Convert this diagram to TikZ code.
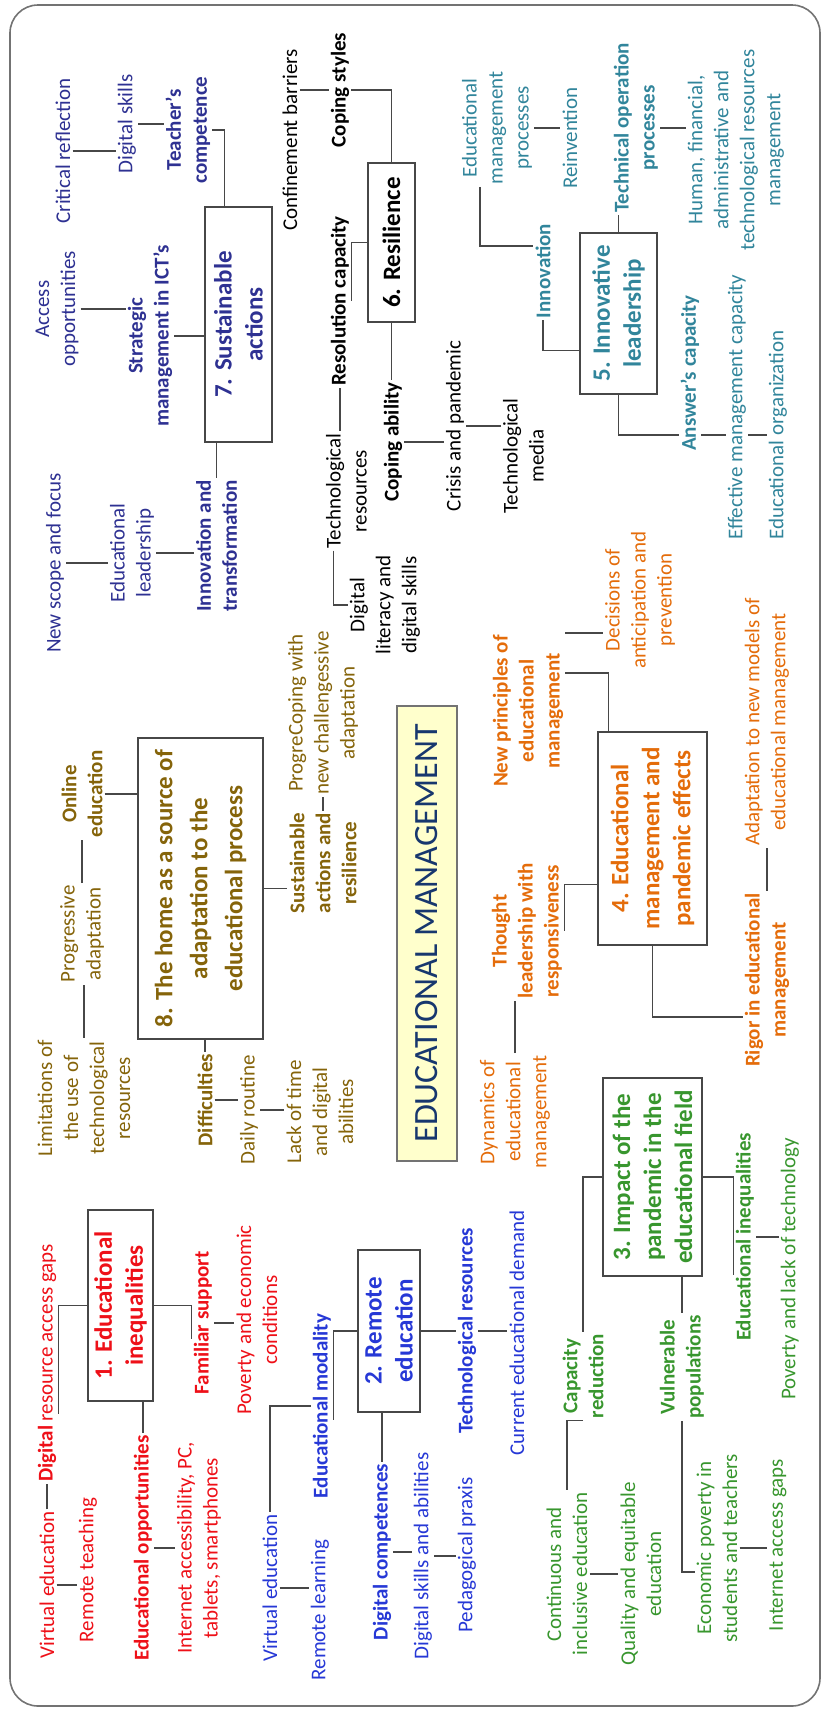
\documentclass[tikz,border=0pt]{standalone}
\usepackage{fontspec}
\setmainfont{Carlito}
\usepackage{tikz}

\definecolor{navytext}{RGB}{46,49,146}
\definecolor{tealtext}{RGB}{49,133,155}
\definecolor{orangetext}{RGB}{228,108,10}
\definecolor{greentext}{RGB}{56,150,46}
\definecolor{bluetext}{RGB}{38,56,214}
\definecolor{redtext}{RGB}{238,16,24}
\definecolor{olivetext}{RGB}{133,100,10}
\definecolor{emtext}{RGB}{23,55,110}
\definecolor{emfill}{RGB}{255,255,204}

\begin{document}
\begin{tikzpicture}[
    x=1pt, y=-1pt,
    font=\fontsize{21}{26}\selectfont,
    leaf/.style={rotate=90, align=center, inner sep=2pt, text=#1},
    sub/.style={leaf=#1, font=\fontsize{21}{26}\selectfont\bfseries},
    topic/.style={
        rotate=90,
        draw=black!72,
        line width=1.1pt,
        align=center,
        inner sep=2pt,
        text=#1,
        font=\fontsize{25}{31}\selectfont\bfseries
    },
    core/.style={
        rotate=90,
        draw=black!55,
        fill=emfill,
        line width=1.1pt,
        text=emtext,
        font=\fontsize{34}{40}\selectfont,
        minimum width=455pt,
        minimum height=60pt
    },
    link/.style={draw=black!72, line width=1.3pt}
]

\useasboundingbox (0,0) rectangle (825,1711);
\draw[black!55, line width=1.6pt, rounded corners=28pt] (10,5) rectangle (820,1706);

\node[core] (core) at (427,933.5) {EDUCATIONAL MANAGEMENT};

\node[topic=redtext, minimum width=191pt, minimum height=65pt] (ineq) at (120.5,1305.5) {1. Educational\\inequalities};
\node[leaf=redtext] (gaps) at (47,1363) {\textbf{Digital} resource access gaps};
\node[leaf=redtext] (virtone) at (47,1585) {Virtual education};
\node[leaf=redtext] (remteach) at (88,1570) {Remote teaching};
\node[sub=redtext] (opport) at (143,1548) {Educational opportunities};
\node[leaf=redtext] (devices) at (199,1548) {Internet accessibility, PC,\\tablets, smartphones};
\node[sub=redtext] (famsup) at (203,1323) {Familiar support};
\node[leaf=redtext] (econcond) at (257,1320) {Poverty and economic\\conditions};

\node[topic=bluetext, minimum width=162pt, minimum height=62pt] (remote) at (389,1331) {2. Remote\\education};
\node[sub=bluetext] (modal) at (322,1406) {Educational modality};
\node[leaf=bluetext] (virttwo) at (270,1588) {Virtual education};
\node[leaf=bluetext] (remlearn) at (320,1610) {Remote learning};
\node[sub=bluetext] (digcomp) at (382,1552) {Digital competences};
\node[leaf=bluetext] (abilities) at (423,1556) {Digital skills and abilities};
\node[leaf=bluetext] (praxis) at (467,1555) {Pedagogical praxis};
\node[sub=bluetext] (techtwo) at (467,1331) {Technological resources};
\node[leaf=bluetext] (demand) at (517,1333) {Current educational demand};

\node[topic=greentext, minimum width=198pt, minimum height=99pt] (impact) at (652.5,1177) {3. Impact of the\\pandemic in the\\educational field};
\node[sub=greentext] (capred) at (583,1376) {Capacity\\reduction};
\node[leaf=greentext] (inclusive) at (567,1574) {Continuous and\\inclusive education};
\node[leaf=greentext] (equitable) at (641,1574) {Quality and equitable\\education};
\node[sub=greentext] (vulner) at (682,1367) {Vulnerable\\populations};
\node[leaf=greentext] (poorstud) at (717,1548) {Economic poverty in\\students and teachers};
\node[leaf=greentext] (netgaps) at (778,1545) {Internet access gaps};
\node[sub=greentext] (inequal) at (745,1237) {Educational inequalities};
\node[leaf=greentext] (lacktech) at (790,1269) {Poverty and lack of technology};

\node[topic=orangetext, minimum width=213pt, minimum height=109pt] (pandeff) at (652.5,838.5) {4. Educational\\management and\\pandemic effects};
\node[sub=orangetext] (principles) at (528,711) {New principles of\\educational\\management};
\node[leaf=orangetext] (decisions) at (640,600) {Decisions of\\anticipation and\\prevention};
\node[sub=orangetext] (thought) at (527,931) {Thought\\leadership with\\responsiveness};
\node[leaf=orangetext] (dynamics) at (515,1112) {Dynamics of\\educational\\management};
\node[sub=orangetext] (rigor) at (767,980) {Rigor in educational\\management};
\node[leaf=orangetext] (adapt) at (767,722) {Adaptation to new models of\\educational management};

\node[topic=tealtext, minimum width=161pt, minimum height=77pt] (leader) at (618.5,313.5) {5. Innovative\\leadership};
\node[leaf=tealtext] (processes) at (497,128) {Educational\\management\\processes};
\node[leaf=tealtext] (reinvent) at (570,138) {Reinvention};
\node[sub=tealtext] (innovfive) at (543,271) {Innovation};
\node[sub=tealtext] (techop) at (636,128) {Technical operation\\processes};
\node[leaf=tealtext] (resources) at (736,150) {Human, financial,\\administrative and\\technological resources\\management};
\node[sub=tealtext] (answer) at (690,373) {Answer’s capacity};
\node[leaf=tealtext] (effective) at (737,407) {Effective management capacity};
\node[leaf=tealtext] (organiz) at (778,435) {Educational organization};

\node[topic=black, minimum width=159pt, minimum height=47pt] (resil) at (391.5,242.5) {6. Resilience};
\node[leaf=black] (confine) at (290,140) {Confinement barriers};
\node[sub=black] (copstyle) at (340,90) {Coping styles};
\node[sub=black] (rescap) at (340,301) {Resolution capacity};
\node[leaf=black] (techsix) at (346.5,491) {Technological\\resources};
\node[leaf=black] (literacy) at (385,605) {Digital\\literacy and\\digital skills};
\node[sub=black] (copab) at (393,442) {Coping ability};
\node[leaf=black] (crisis) at (455,426) {Crisis and pandemic};
\node[leaf=black] (media) at (523.5,456) {Technological\\media};

\node[topic=navytext, minimum width=235pt, minimum height=67pt] (sustain) at (238.5,324.5) {7. Sustainable\\actions};
\node[leaf=navytext] (critical) at (63,151) {Critical reflection};
\node[leaf=navytext] (digskills) at (127,124) {Digital skills};
\node[sub=navytext] (teacher) at (188,130) {Teacher’s\\competence};
\node[leaf=navytext] (opportun) at (57,309) {Access\\opportunities};
\node[sub=navytext] (strategic) at (150,336) {Strategic\\management in ICT’s};
\node[leaf=navytext] (scope) at (55,563) {New scope and focus};
\node[leaf=navytext] (edlead) at (132,553) {Educational\\leadership};
\node[sub=navytext] (transform) at (216.5,546) {Innovation and\\transformation};

\node[topic=olivetext, minimum width=301pt, minimum height=125pt, font=\fontsize{25}{35}\selectfont\bfseries] (home) at (200.5,888.5) {8. The home as a source of\\adaptation to the\\educational process};
\node[sub=olivetext] (online) at (82,794) {Online\\education};
\node[leaf=olivetext] (progress) at (82,934) {Progressive\\adaptation};
\node[leaf=olivetext] (limits) at (84,1098) {Limitations of\\the use of\\technological\\resources};
\node[sub=olivetext] (difficult) at (205,1100) {Difficulties};
\node[leaf=olivetext] (routine) at (249,1110) {Daily routine};
\node[leaf=olivetext] (lacktime) at (320,1112) {Lack of time\\and digital\\abilities};
\node[sub=olivetext] (sustres) at (323,863) {Sustainable\\actions and\\resilience};
\node[leaf=olivetext] (challenge) at (323,713) {ProgreCoping with\\new challengessive\\adaptation};

\draw[link] (ineq.north) -| ([yshift=-51pt]gaps.south);
\draw[link] (virtone.east) -- (virtone.east |- gaps.west);
\draw[link] (virtone.south) -- (virtone.south -| remteach.north);
\draw[link] (opport.east) -- (opport.east |- ineq.west);
\draw[link] (opport.south) -- (opport.south -| devices.north);
\draw[link] (ineq.south) -| ([yshift=-16pt]famsup.north);
\draw[link] (famsup.south) -- (famsup.south -| econcond.north);

\draw[link] (remote.north) -| ([yshift=-14pt]modal.south);
\draw[link] (modal.north) -| (virttwo.east);
\draw[link] (virttwo.south) -- (virttwo.south -| remlearn.north);
\draw[link] (digcomp.east) -- (digcomp.east |- remote.west);
\draw[link] (digcomp.south) -- (digcomp.south -| abilities.north);
\draw[link] (abilities.south) -- (abilities.south -| praxis.north);
\draw[link] (remote.south) -- (remote.south -| techtwo.north);
\draw[link] (techtwo.south) -- (techtwo.south -| demand.north);

\draw[link] (impact.north) -| (capred.east);
\draw[link] (capred.west) -| (inclusive.east);
\draw[link] (inclusive.south) -- (inclusive.south -| equitable.north);
\draw[link] (vulner.east) -- (vulner.east |- impact.west);
\draw[link] (vulner.west) |- ([yshift=-24pt]poorstud.north);
\draw[link] (poorstud.south) -- (poorstud.south -| netgaps.north);
\draw[link] (impact.south) -| ([yshift=-38pt]inequal.north);
\draw[link] (inequal.south) -- (inequal.south -| lacktech.north);

\draw[link] ([yshift=38pt]principles.south) -| ([xshift=-44pt]pandeff.east);
\draw[link] (principles.south east) -- (principles.south east -| decisions.north);
\draw[link] ([yshift=-46pt]pandeff.north) -| (thought.south);
\draw[link] (dynamics.east) -- (dynamics.east |- thought.west);
\draw[link] (pandeff.west) |- ([yshift=-37pt]rigor.north);
\draw[link] (rigor.east) -- (rigor.east |- adapt.west);

\draw[link] (processes.south) -- (processes.south -| reinvent.north);
\draw[link] ([xshift=-17pt]processes.west) |- ([yshift=25pt]innovfive.north);
\draw[link] (innovfive.west) |- ([yshift=-37pt]leader.north);
\draw[link] (leader.east) -- (leader.east |- techop.west);
\draw[link] (techop.south) -- (techop.south -| resources.north);
\draw[link] (leader.west) |- (organiz.north -| answer.north);
\draw[link] (answer.south |- organiz.north) -- (effective.north |- organiz.north);
\draw[link] (effective.south |- organiz.north) -- (organiz.north);

\draw[link] (confine.south |- copstyle.north) -- (copstyle.north);
\draw[link] (copstyle.south) -| (resil.east);
\draw[link] (resil.north) -| (rescap.south);
\draw[link] (rescap.west) -- (rescap.west |- techsix.east);
\draw[link] ([xshift=-13pt]techsix.west) |- (literacy.north);
\draw[link] (resil.west) -- (resil.west |- copab.east);
\draw[link] (copab.south) -- (copab.south -| crisis.north);
\draw[link] (crisis.south) -- (crisis.south -| media.north);

\draw[link] (critical.south) -- (critical.south -| digskills.north);
\draw[link] (digskills.south) -- (digskills.south -| teacher.north);
\draw[link] (teacher.south) -| ([xshift=-14pt]sustain.east);
\draw[link] (opportun.south) -- (opportun.south -| strategic.north);
\draw[link] (strategic.south) -- (strategic.south -| sustain.north);
\draw[link] (scope.south) -- (scope.south -| edlead.north);
\draw[link] (edlead.south) -- (edlead.south -| transform.north);
\draw[link] (transform.east) -- (transform.east |- sustain.west);

\draw[link] (online.south) -- (online.south -| home.north);
\draw[link] (progress.east) -- (progress.east |- online.west);
\draw[link] (limits.east) -- (limits.east |- progress.west);
\draw[link] (difficult.east) -- (difficult.east |- home.west);
\draw[link] (difficult.south) -- (difficult.south -| routine.north);
\draw[link] (routine.south) -- (routine.south -| lacktime.north);
\draw[link] (home.south) -- (home.south -| sustres.north);
\draw[link] (sustres.east) -- (sustres.east |- challenge.west);

\end{tikzpicture}
\end{document}
